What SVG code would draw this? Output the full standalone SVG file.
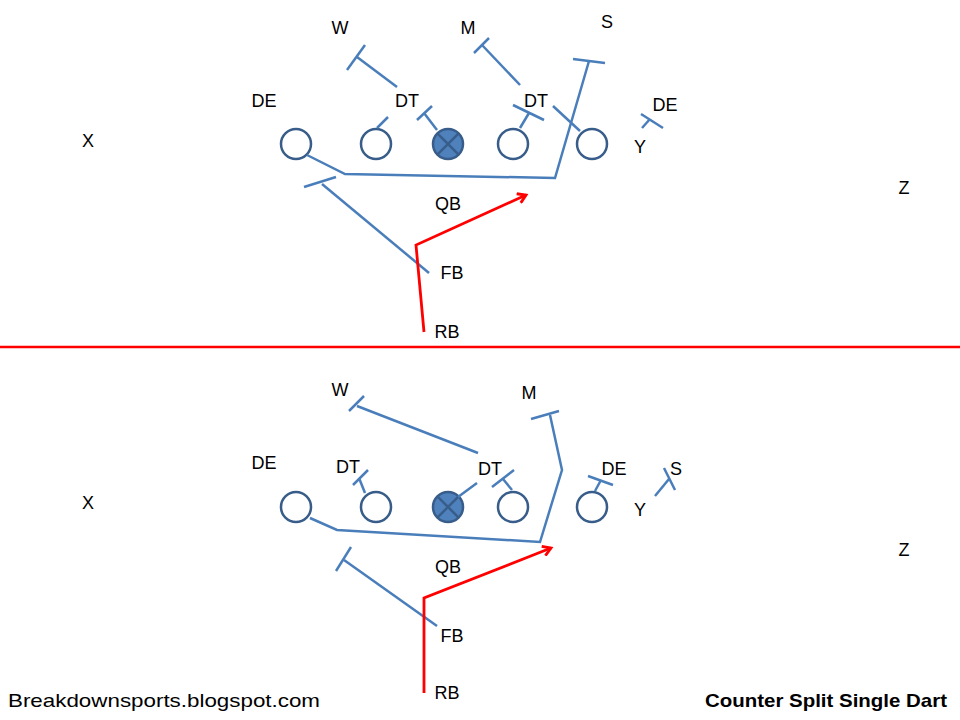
<svg xmlns="http://www.w3.org/2000/svg" width="960" height="720" viewBox="0 0 960 720">
<defs>
<style>
.lbl{font-family:"Liberation Sans",Arial,sans-serif;font-size:18px;fill:#000;text-anchor:middle}
.o{fill:#fff;stroke:#385d8a;stroke-width:2.5}
.c{fill:#4f81bd;stroke:#385d8a;stroke-width:2.5}
.x{stroke:#385d8a;stroke-width:2.5}
.b{stroke:#4a7ebb;stroke-width:2.5;fill:none;stroke-linecap:butt}
.r{stroke:#ff0000;stroke-width:2.8;fill:none}
.foot{font-family:"Liberation Sans",Arial,sans-serif;font-size:19px;fill:#000}
</style>
<marker id="arr" markerWidth="12" markerHeight="12" refX="9" refY="6" orient="auto" markerUnits="userSpaceOnUse">
<path d="M1,1 L9,6 L1,11" fill="none" stroke="#ff0000" stroke-width="2.8"/>
</marker>
</defs>
<rect width="960" height="720" fill="#fff"/>

<!-- TOP DIAGRAM -->
<g id="top-labels">
<text class="lbl" x="340" y="34">W</text>
<text class="lbl" x="468" y="34">M</text>
<text class="lbl" x="607" y="28">S</text>
<text class="lbl" x="264" y="107">DE</text>
<text class="lbl" x="407" y="107">DT</text>
<text class="lbl" x="536" y="107">DT</text>
<text class="lbl" x="665" y="111">DE</text>
<text class="lbl" x="88" y="147">X</text>
<text class="lbl" x="640" y="153">Y</text>
<text class="lbl" x="904" y="194">Z</text>
<text class="lbl" x="448" y="210">QB</text>
<text class="lbl" x="452" y="279">FB</text>
<text class="lbl" x="447" y="338">RB</text>
</g>
<g id="top-lt"><circle class="o" cx="296" cy="144" r="15"/></g>
<g id="top-lg"><circle class="o" cx="376" cy="144" r="15"/></g>
<g id="top-c"><circle class="c" cx="448" cy="144" r="15"/><line class="x" x1="437.4" y1="133.4" x2="458.6" y2="154.6"/><line class="x" x1="458.6" y1="133.4" x2="437.4" y2="154.6"/></g>
<g id="top-rg"><circle class="o" cx="513" cy="144" r="15"/></g>
<g id="top-rt"><circle class="o" cx="592" cy="144" r="15"/></g>
<g id="top-connectors">
<polyline class="b" points="307,155 345,174 555,178 589,61"/>
<line class="b" x1="573" y1="59" x2="605" y2="63"/>
<line class="b" x1="397" y1="87" x2="357" y2="57"/>
<line class="b" x1="365" y1="45" x2="347" y2="70"/>
<line class="b" x1="377" y1="128" x2="388" y2="117"/>
<line class="b" x1="437" y1="130" x2="424" y2="113"/>
<line class="b" x1="417" y1="120" x2="432" y2="106"/>
<line class="b" x1="520" y1="85" x2="482" y2="45"/>
<line class="b" x1="474" y1="53" x2="489" y2="38"/>
<line class="b" x1="520" y1="128" x2="529" y2="113"/>
<line class="b" x1="513" y1="105" x2="544" y2="120"/>
<line class="b" x1="580" y1="131" x2="553" y2="106"/>
<line class="b" x1="641" y1="114" x2="663" y2="128"/>
<line class="b" x1="650" y1="119" x2="642" y2="128"/>
<line class="b" x1="304" y1="187" x2="336" y2="177"/>
<line class="b" x1="322" y1="184" x2="429" y2="273"/>
<polyline class="r" points="424,332 416,245 526,195" marker-end="url(#arr)"/>
</g>

<line x1="0" y1="347" x2="960" y2="347" stroke="#ff0000" stroke-width="2.5"/>

<!-- BOTTOM DIAGRAM -->
<g id="bot-labels">
<text class="lbl" x="340" y="396">W</text>
<text class="lbl" x="529" y="399">M</text>
<text class="lbl" x="264" y="469">DE</text>
<text class="lbl" x="348" y="473">DT</text>
<text class="lbl" x="490" y="475">DT</text>
<text class="lbl" x="614" y="475">DE</text>
<text class="lbl" x="676" y="475">S</text>
<text class="lbl" x="88" y="509">X</text>
<text class="lbl" x="640" y="516">Y</text>
<text class="lbl" x="904" y="556">Z</text>
<text class="lbl" x="448" y="573">QB</text>
<text class="lbl" x="452" y="642">FB</text>
<text class="lbl" x="447" y="699">RB</text>
</g>
<g id="bot-lt"><circle class="o" cx="296" cy="507" r="15"/></g>
<g id="bot-lg"><circle class="o" cx="376" cy="507" r="15"/></g>
<g id="bot-c"><circle class="c" cx="448" cy="507" r="15"/><line class="x" x1="437.4" y1="496.4" x2="458.6" y2="517.6"/><line class="x" x1="458.6" y1="496.4" x2="437.4" y2="517.6"/></g>
<g id="bot-rg"><circle class="o" cx="513" cy="507" r="15"/></g>
<g id="bot-rt"><circle class="o" cx="592" cy="507" r="15"/></g>
<g id="bot-connectors">
<polyline class="b" points="310,518 337,530 540,542 562,470 550,415"/>
<line class="b" x1="531" y1="419" x2="559" y2="411"/>
<line class="b" x1="349" y1="411" x2="364" y2="396"/>
<line class="b" x1="357" y1="406" x2="478" y2="453"/>
<line class="b" x1="458" y1="497" x2="477" y2="483"/>
<line class="b" x1="365" y1="493" x2="359" y2="478"/>
<line class="b" x1="353" y1="485" x2="368" y2="470"/>
<line class="b" x1="512" y1="490" x2="503" y2="479"/>
<line class="b" x1="492" y1="487" x2="514" y2="470"/>
<line class="b" x1="595" y1="491" x2="601" y2="480"/>
<line class="b" x1="588" y1="476" x2="613" y2="485"/>
<line class="b" x1="655" y1="496" x2="669" y2="479"/>
<line class="b" x1="664" y1="468" x2="675" y2="490"/>
<line class="b" x1="336" y1="571" x2="351" y2="547"/>
<line class="b" x1="344" y1="560" x2="437" y2="626"/>
<polyline class="r" points="424,693 424,598 551,548" marker-end="url(#arr)"/>
</g>

<g id="footer">
<text class="foot" x="8" y="707" textLength="312" lengthAdjust="spacingAndGlyphs">Breakdownsports.blogspot.com</text>
<text class="foot" x="947" y="707" text-anchor="end" font-weight="bold" textLength="242" lengthAdjust="spacingAndGlyphs">Counter Split Single Dart</text>
</g>
</svg>
